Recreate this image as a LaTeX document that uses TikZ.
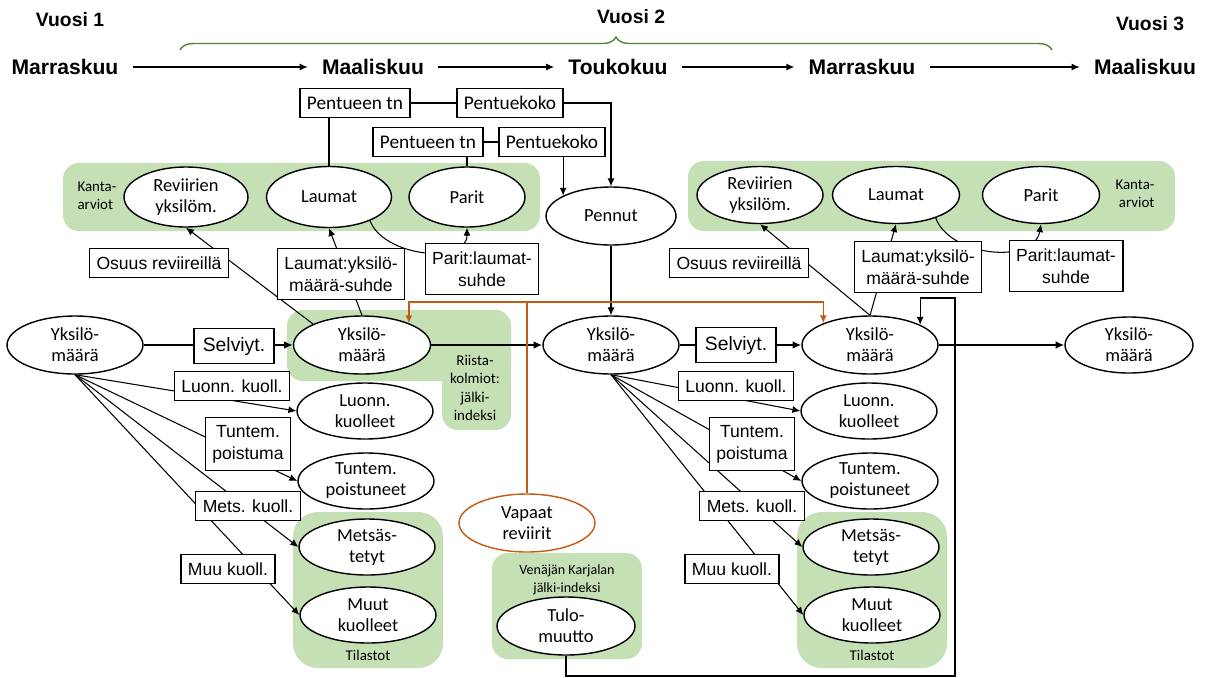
\documentclass[tikz,border=0pt]{standalone}
\usepackage{fontspec}
\setmainfont{Liberation Sans}
\newfontfamily\calib{Carlito}
\usetikzlibrary{shapes.geometric,arrows.meta,decorations.pathreplacing}
\definecolor{kgreen}{RGB}{197,224,180}
\definecolor{korange}{RGB}{197,90,17}
\definecolor{kbrace}{RGB}{84,130,53}
\pgfdeclarelayer{back}
\pgfdeclarelayer{mid}
\pgfsetlayers{back,mid,main}
\tikzset{
  ell/.style={draw, ellipse, line width=0.8pt, fill=white, inner sep=0pt,
    minimum width=2.72cm, minimum height=1.16cm, align=center,
    font=\calib\fontsize{10.5}{12}\selectfont},
  lbox/.style={draw, line width=0.75pt, fill=white, align=center,
    inner xsep=4pt, inner ysep=4.5pt, font=\fontsize{10}{12.5}\selectfont},
  cbox/.style={lbox, font=\calib\fontsize{11}{13}\selectfont},
  selbox/.style={lbox, inner xsep=5pt, inner ysep=5pt, font=\fontsize{11}{13}\selectfont},
  month/.style={font=\bfseries\fontsize{12}{14}\selectfont, inner xsep=8pt},
  year/.style={font=\bfseries\fontsize{11}{13}\selectfont},
  glabel/.style={font=\calib\fontsize{8.5}{10.5}\selectfont, align=center},
  gzone/.style={fill=kgreen, rounded corners=9pt},
  conn/.style={line width=0.6pt},
  arr/.style={conn, -{Latex[length=4.5pt,width=4pt]}},
  mainarr/.style={line width=1.3pt, -{Latex[length=5pt,width=4.5pt]}},
  orarr/.style={arr, korange, line width=0.8pt},
}
\begin{document}
\begin{tikzpicture}[x=0.02cm, y=-0.02cm]
\useasboundingbox (0,0) rectangle (1206,677);
% Vuodet ja kuukaudet
\node[year] (vu1) at (70,20) {Vuosi 1};
\node[year] (vu2) at (631,17) {Vuosi 2};
\node[year] (vu3) at (1150,24) {Vuosi 3};
\draw[kbrace, line width=0.8pt, decorate, decoration={brace, amplitude=0.26cm}] (180,50) -- (1052,50);
\node[month] (kk1) at (65,67) {Marraskuu};
\node[month] (kk2) at (373,67) {Maaliskuu};
\node[month] (kk3) at (618,67) {Toukokuu};
\node[month] (kk4) at (862,67) {Marraskuu};
\node[month] (kk5) at (1145,67) {Maaliskuu};
\foreach \a/\b in {kk1/kk2,kk2/kk3,kk3/kk4,kk4/kk5}
  \draw[arr] (\a) -- (\b);
% Vihreat alueet
\begin{pgfonlayer}{back}
  \fill[gzone] (63,163) rectangle (540,231);
  \fill[gzone] (688,161) rectangle (1175,231);
  \fill[gzone] (287,310) rectangle (511,381);
  \fill[gzone] (442,310) rectangle (511,430);
  \fill[gzone] (492,553) rectangle (642,659);
\end{pgfonlayer}
% Kanta-arviot
\node[glabel, align=left] (kaA) at (97,196) {Kanta-\\arviot};
\node[ell, minimum width=2.48cm, minimum height=1.2cm] (revA) at (186,197) {Reviirien\\yksilöm.};
\node[ell, minimum width=2.5cm, minimum height=1.22cm] (lauA) at (329,197) {Laumat};
\node[ell, minimum width=2.32cm, minimum height=1.2cm] (parA) at (467,197) {Parit};
\node[ell, minimum width=2.52cm, minimum height=1.14cm] (revB) at (760,195) {Reviirien\\yksilöm.};
\node[ell, minimum width=2.54cm, minimum height=1.14cm] (lauB) at (896,195) {Laumat};
\node[ell, minimum width=2.34cm, minimum height=1.14cm] (parB) at (1041,195) {Parit};
\node[glabel, align=right] (kaB) at (1135,194) {Kanta-\\arviot};
% Pentueet
\node[cbox] (ptA) at (355,103) {Pentueen tn};
\node[cbox] (pkA) at (510,103) {Pentuekoko};
\node[cbox] (ptB) at (428,142) {Pentueen tn};
\node[cbox] (pkB) at (552,142) {Pentuekoko};
\node[ell, minimum width=2.6cm] (pen) at (611,216) {Pennut};
% Suhteet
\node[lbox] (osA) at (159,263) {Osuus reviireillä};
\node[lbox] (lyA) at (341,274) {Laumat:yksilö-\\määrä-suhde};
\node[lbox] (plA) at (482,269) {Parit:laumat-\\suhde};
\node[lbox] (osB) at (739,263) {Osuus reviireillä};
\node[lbox] (lyB) at (918,267) {Laumat:yksilö-\\määrä-suhde};
\node[lbox] (plB) at (1066,266) {Parit:laumat-\\suhde};
% Yksilomaarat
\node[ell] (yksA) at (75,345) {Yksilö-\\määrä};
\node[selbox] (selA) at (234,346) {Selviyt.};
\node[ell, minimum width=2.74cm] (yksB) at (362,345) {Yksilö-\\määrä};
\node[glabel] (rii) at (475,388) {Riista-\\kolmiot:\\jälki-\\indeksi};
\node[ell] (yksC) at (611,345) {Yksilö-\\määrä};
\node[selbox] (selB) at (736,345) {Selviyt.};
\node[ell] (yksD) at (870,345) {Yksilö-\\määrä};
\node[ell, minimum width=2.56cm, minimum height=1.12cm] (yksE) at (1129,345) {Yksilö-\\määrä};
% Vapaat reviirit ja tulomuutto
\node[ell, draw=korange] (vap) at (527,523) {Vapaat\\reviirit};
\node[glabel, font=\calib\fontsize{8}{10}\selectfont] (ven) at (567,580) {Venäjän Karjalan\\jälki-indeksi};
\node[ell, minimum width=2.76cm] (tulo) at (566,626) {Tulo-\\muutto};
% Kuolleisuus
\foreach \s/\dx/\src in {A/0/yksA, B/504/yksC}{
  \begin{scope}[shift={(\dx,0)}]
    \begin{pgfonlayer}{back}
      \fill[gzone, rounded corners=14pt] (293,512) rectangle (443,668);
    \end{pgfonlayer}
    \node[glabel] (til\s) at (368,655) {Tilastot};
    \node[ell, minimum height=1.12cm] (lke\s) at (365,411) {Luonn.\\kuolleet};
    \node[ell, minimum height=1.12cm] (tpe\s) at (366,481) {Tuntem.\\poistuneet};
    \node[ell, minimum height=1.12cm] (mke\s) at (367,547) {Metsäs-\\tetyt};
    \node[ell, minimum height=1.12cm] (mue\s) at (368,615) {Muut\\kuolleet};
    \node[lbox] (lk\s) at (232,386) {Luonn. kuoll.};
    \node[lbox] (tp\s) at (248,444) {Tuntem.\\poistuma};
    \node[lbox] (mk\s) at (248,506) {Mets. kuoll.};
    \node[lbox] (mu\s) at (228,569) {Muu kuoll.};
    \begin{pgfonlayer}{mid}
      \foreach \e in {lke,tpe,mke,mue}
        \draw[arr] (\src.south) -- (\e\s.west);
    \end{pgfonlayer}
  \end{scope}
}
% Yhteydet
\coordinate (vr) at (527,302);
\coordinate (lp1) at (955,676);
\coordinate (lp2) at (955,298);
\begin{pgfonlayer}{mid}
  \draw[arr] (lauA.north) |- (pkA.center) -| (pen.north);
  \draw[arr] (parA.north) |- (pkB.center) -| (pen.157);
  \draw[arr] (pen) -- (yksC);
  \draw[arr] (yksB.north west) -- (revA.south);
  \draw[arr] (yksB.north) -- (lauA.south);
  \draw[arr] (lauA.-30) to[out=-70,in=-90] (parA.south);
  \draw[arr] (yksD.north) -- (revB.south);
  \draw[arr] (yksD.north) -- (lauB.south);
  \draw[arr] (lauB.-30) to[out=-70,in=-100] (parB.south);
  \draw[mainarr] (yksA) -- (yksB);
  \draw[mainarr] (yksB) -- (yksC);
  \draw[mainarr] (yksC) -- (yksD);
  \draw[mainarr] (yksD) -- (yksE);
  \draw[korange, line width=0.8pt] (vap.north) -- (vr);
  \draw[orarr] (vr) -| (yksB.25);
  \draw[orarr] (vr) -| (yksD.155);
  \draw[arr] (tulo.south) |- (lp1) -- (lp2) -| (yksD.22);
\end{pgfonlayer}
\end{tikzpicture}
\end{document}
